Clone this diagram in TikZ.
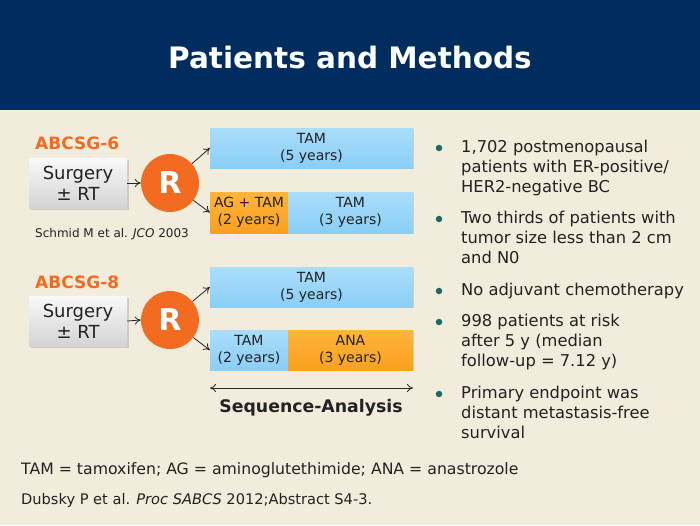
\documentclass[tikz,border=0pt]{standalone}
\usepackage{fontspec}
\setmainfont{DejaVu Sans}
\usetikzlibrary{shadows,arrows.meta}
\definecolor{navy}{HTML}{002D5E}
\definecolor{cream}{HTML}{F2ECDC}
\definecolor{orng}{HTML}{F26B21}
\definecolor{lbA}{HTML}{AADDFB}
\definecolor{lbB}{HTML}{8ACEF6}
\definecolor{orA}{HTML}{FFB43A}
\definecolor{orB}{HTML}{F9A020}
\definecolor{teal}{HTML}{1B6A68}
\definecolor{txt}{HTML}{222222}
\tikzset{
  bluebox/.style={draw=none,top color=lbA,bottom color=lbB,drop shadow={shadow xshift=1pt,shadow yshift=-1pt,opacity=0.25},inner sep=0pt,align=center,font=\fontsize{14}{17}\selectfont,text=txt},
  orbox/.style={bluebox,top color=orA,bottom color=orB},
  surgbox/.style={draw=none,top color=white!95!gray,bottom color=black!17,drop shadow={shadow xshift=1.5pt,shadow yshift=-1.5pt,opacity=0.3},minimum width=98pt,minimum height=50pt,inner sep=0pt,align=center,font=\fontsize{18}{21}\selectfont,text=txt},
  rcirc/.style={circle,fill=orng,minimum size=58pt,inner sep=0pt,text=white,font=\bfseries\fontsize{30}{30}\selectfont},
  trial/.style={text=orng,font=\bfseries\fontsize{17}{20}\selectfont,anchor=west,inner sep=0pt},
  conn/.style={-{To[length=6pt,width=8pt]},line width=0.8pt,black!85},
  bul/.style={circle,fill=teal,minimum size=6.5pt,inner sep=0pt},
  bultext/.style={anchor=north west,align=left,inner sep=0pt,text=txt,font=\fontsize{16.3}{20}\selectfont},
}
\begin{document}
\begin{tikzpicture}[x=1pt,y=-1pt]
\useasboundingbox (0,0) rectangle (700,525);
\fill[cream] (0,0) rectangle (700,525);
\fill[navy] (0,0) rectangle (700,110);
\node[text=white,font=\bfseries\fontsize{29.5}{32}\selectfont] (title) at (350,57) {Patients and Methods};

% ABCSG-6
\node[trial] (l6) at (35,143) {ABCSG-6};
\node[surgbox] (s6) at (78,183) {Surgery\\± RT};
\node[rcirc] (r6) at (170,183) {R};
\node[bluebox,minimum width=203pt,minimum height=40pt] (t6a) at (311.5,148) {TAM\\(5 years)};
\node[orbox,minimum width=78pt,minimum height=41pt] (t6b1) at (249,212.5) {AG + TAM\\(2 years)};
\node[bluebox,minimum width=125pt,minimum height=41pt] (t6b2) at (350.5,212.5) {TAM\\(3 years)};
\draw[conn] (s6.east) -- (r6.west);
\draw[conn] (r6) -- (t6a.west);
\draw[conn] (r6) -- (t6b1.west);
\node[anchor=west,inner sep=0pt,text=txt,font=\fontsize{12}{14}\selectfont] (ref6) at (35,234) {Schmid M et al. \textit{JCO} 2003};

% ABCSG-8
\node[trial] (l8) at (35,282) {ABCSG-8};
\node[surgbox] (s8) at (78,321) {Surgery\\± RT};
\node[rcirc] (r8) at (170,320) {R};
\node[bluebox,minimum width=203pt,minimum height=40pt] (t8a) at (311.5,287) {TAM\\(5 years)};
\node[bluebox,minimum width=78pt,minimum height=40pt] (t8b1) at (249,350) {TAM\\(2 years)};
\node[orbox,minimum width=125pt,minimum height=40pt] (t8b2) at (350.5,350) {ANA\\(3 years)};
\draw[conn] (s8.east) -- (r8.west);
\draw[conn] (r8) -- (t8a.west);
\draw[conn] (r8) -- (t8b1.west);

\coordinate (sa) at (210,388);
\coordinate (sb) at (413,388);
\draw[{To[length=6pt,width=8pt]}-{To[length=6pt,width=8pt]},line width=0.8pt,black!85] (sa) -- (sb);
\node[text=txt,font=\bfseries\fontsize{17.3}{20}\selectfont] (seq) at (311,408) {Sequence-Analysis};

% bullets
\node[bul] (b1) at (439,148) {};
\node[bultext] (t1) at (461,140) {1,702 postmenopausal\\patients with ER-positive/\\HER2-negative BC};
\node[bul] (b2) at (439,219) {};
\node[bultext] (t2) at (461,211) {Two thirds of patients with\\tumor size less than 2 cm\\and N0};
\node[bul] (b3) at (439,291) {};
\node[bultext] (t3) at (461,283) {No adjuvant chemotherapy};
\node[bul] (b4) at (439,322) {};
\node[bultext] (t4) at (461,314) {998 patients at risk\\after 5 y (median\\follow-up = 7.12 y)};
\node[bul] (b5) at (439,394) {};
\node[bultext] (t5) at (461,386) {Primary endpoint was\\distant metastasis-free\\survival};

% footer
\node[anchor=west,inner sep=0pt,text=txt,font=\fontsize{15.7}{18}\selectfont] (abbr) at (21,470) {TAM = tamoxifen; AG = aminoglutethimide; ANA = anastrozole};
\node[anchor=west,inner sep=0pt,text=txt,font=\fontsize{14.6}{17}\selectfont] (cite) at (21,500) {Dubsky P et al. \textit{Proc SABCS} 2012;Abstract S4-3.};
\end{tikzpicture}
\end{document}
